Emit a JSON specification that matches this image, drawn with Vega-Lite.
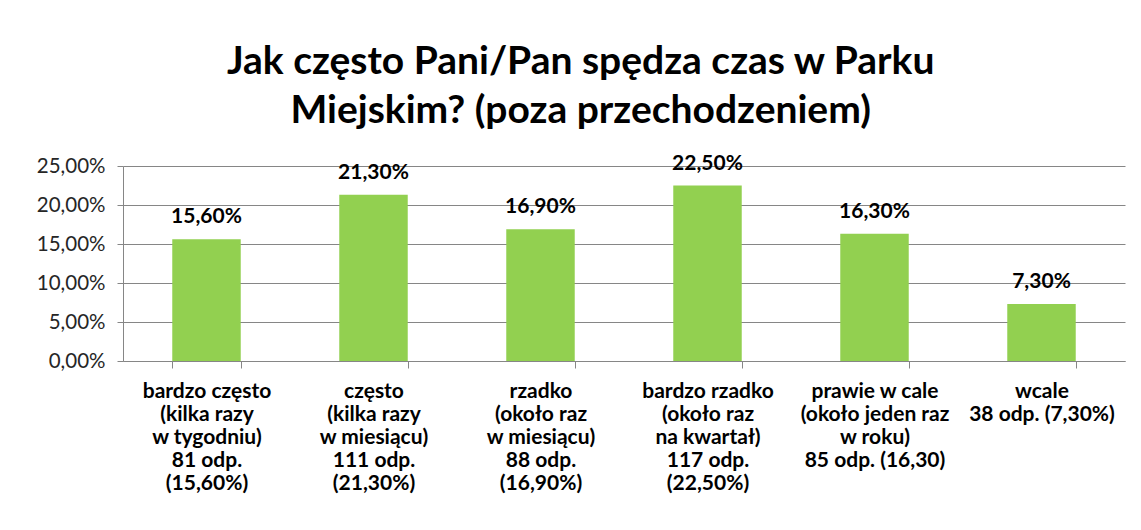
{
  "$schema": "https://vega.github.io/schema/vega-lite/v6.json",
  "width": 1002,
  "height": 195,
  "autosize": "none",
  "padding": {"left": 123, "top": 166, "right": 16, "bottom": 169},
  "background": "white",
  "title": {
    "text": ["Jak często Pani/Pan spędza czas w Parku", "Miejskim? (poza przechodzeniem)"],
    "font": "Lato",
    "fontSize": 39,
    "fontWeight": "bold",
    "color": "#000000",
    "lineHeight": 49,
    "anchor": "middle",
    "frame": "bounds",
    "offset": 22
  },
  "data": {
    "values": [
      {"kategoria": "bardzo często|(kilka razy|w tygodniu)|81 odp.|(15,60%)", "udzial": 0.156},
      {"kategoria": "często|(kilka razy|w miesiącu)|111 odp.|(21,30%)", "udzial": 0.213},
      {"kategoria": "rzadko|(około raz|w miesiącu)|88 odp.|(16,90%)", "udzial": 0.169},
      {"kategoria": "bardzo rzadko|(około raz|na kwartał)|117 odp.|(22,50%)", "udzial": 0.225},
      {"kategoria": "prawie w cale|(około jeden raz|w roku)|85 odp. (16,30)", "udzial": 0.163},
      {"kategoria": "wcale|38 odp. (7,30%)", "udzial": 0.073}
    ]
  },
  "encoding": {
    "x": {
      "field": "kategoria",
      "type": "nominal",
      "sort": null,
      "scale": {"paddingInner": 0.59, "paddingOuter": 0.295},
      "axis": {
        "title": null,
        "labelAngle": 0,
        "labelExpr": "split(datum.label, '|')",
        "labelFont": "Lato",
        "labelFontSize": 21,
        "labelFontWeight": "bold",
        "labelColor": "#000000",
        "labelLineHeight": 23,
        "labelPadding": 12,
        "labelBaseline": "top",
        "labelLimit": 0,
        "tickBand": "extent",
        "tickSize": 7,
        "tickColor": "#868686",
        "domainColor": "#868686",
        "grid": false
      }
    },
    "y": {
      "field": "udzial",
      "type": "quantitative",
      "scale": {"domain": [0, 0.25], "nice": false},
      "axis": {
        "title": null,
        "values": [0, 0.05, 0.1, 0.15, 0.2, 0.25],
        "format": ".2%",
        "labelFont": "Lato",
        "labelFontSize": 20.5,
        "labelColor": "#262626",
        "labelPadding": 12,
        "tickSize": 6,
        "tickColor": "#868686",
        "domainColor": "#868686",
        "gridColor": "#868686",
        "grid": true
      }
    }
  },
  "layer": [
    {"mark": {"type": "bar", "color": "#92D050"}},
    {
      "mark": {
        "type": "text",
        "baseline": "bottom",
        "dy": -12,
        "font": "Lato",
        "fontSize": 21,
        "fontWeight": "bold",
        "color": "#000000"
      },
      "encoding": {"text": {"field": "udzial", "type": "quantitative", "format": ".2%"}}
    }
  ],
  "config": {
    "view": {"stroke": null},
    "locale": {
      "number": {"decimal": ",", "thousands": " ", "grouping": [3], "currency": ["", " zł"]}
    }
  }
}
